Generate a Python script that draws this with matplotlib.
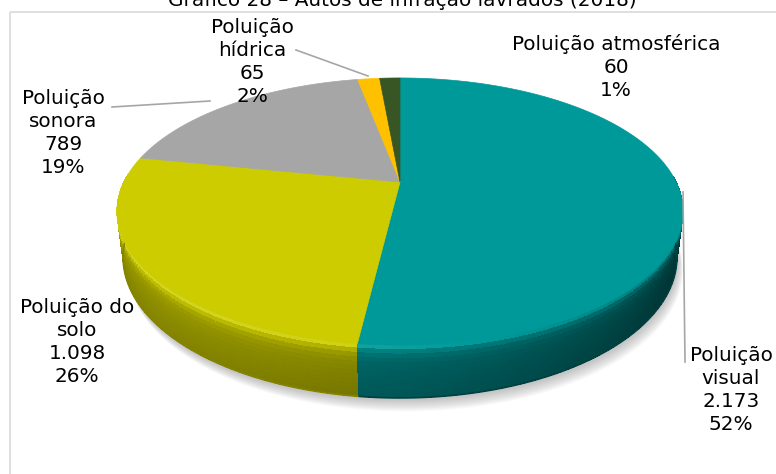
import numpy as np
import matplotlib.pyplot as plt
from matplotlib.patches import Polygon, Rectangle
from matplotlib.colors import to_rgb

# data
names = ['Poluição\nvisual', 'Poluição do\nsolo', 'Poluição\nsonora',
         'Poluição\nhídrica', 'Poluição atmosférica']
counts = [2173, 1098, 789, 65, 60]
count_labels = ['2.173', '1.098', '789', '65', '60']
colors = ['#009999', '#cccc00', '#a6a6a6', '#ffc000', '#375623']

# label layout (pixel coords) and leader lines
label_pos = [(731, 390), (77, 342), (63, 133), (252, 62), (616, 67)]
leaders = {0: [(683, 192), (685, 362)],
           2: [(112, 107), (210, 101)],
           3: [(296, 50), (368, 76)]}

# 3d projection of the pie
CX, CY = 400, 182
F, D = 1110, 4.02
SPHI, CPHI = 0.46, 0.888
H = 0.187


def proj(theta, y=0.0):
    X = np.sin(theta)
    Z = np.cos(theta)
    yc = y * CPHI + Z * SPHI
    zc = D + Z * CPHI - y * SPHI
    return CX + F * X / zc, CY - F * yc / zc


def shade(c, k):
    r, g, b = to_rgb(c)
    if k <= 1:
        return (r * k, g * k, b * k)
    t = min(k - 1, 1)
    return (r + (1 - r) * t, g + (1 - g) * t, b + (1 - b) * t)


def side_k(m, j, nb):
    light = -0.8 * np.sin(m) - 0.6 * np.cos(m)
    base = 0.5 + 0.25 * light
    return base * (1.0 - 0.15 * j / nb) + 0.4 * np.exp(-j / 1.3)


fig = plt.figure(figsize=(7.76, 4.74), dpi=100)
ax = fig.add_axes([0, 0, 1, 1])
ax.set_xlim(0, 776)
ax.set_ylim(474, 0)
ax.axis('off')

ax.add_patch(Rectangle((10, 12), 800, 500, fill=False, edgecolor='#d9d9d9', lw=1.2))

total = sum(counts)
fracs = np.array(counts) / total
bounds = np.concatenate([[0], np.cumsum(fracs)]) * 2 * np.pi

# soft shadow under the pie
th = np.linspace(0, 2 * np.pi, 361)
bx, by = proj(th, -H)
for k in range(1, 16):
    ax.add_patch(Polygon(np.column_stack([bx + k * 0.4, by + k * 0.9]), closed=True,
                         facecolor='#808080', edgecolor='none', alpha=0.04, zorder=1))

# side wall segments (front half only), far to near
segs = []
for i in range(len(counts)):
    n = max(2, int(np.degrees(bounds[i + 1] - bounds[i])))
    t = np.linspace(bounds[i], bounds[i + 1], n + 1)
    for a, b in zip(t[:-1], t[1:]):
        if np.cos((a + b) / 2) < 0.05:
            segs.append((np.cos((a + b) / 2), i, a, b))
segs.sort(key=lambda s: -s[0])

nb = 12
for _, i, a, b in segs:
    m = (a + b) / 2
    for j in range(nb):
        y0 = -H * j / nb
        y1 = -H * (j + 1) / nb
        xa0, ya0 = proj(a, y0)
        xb0, yb0 = proj(b, y0)
        xa1, ya1 = proj(a, y1)
        xb1, yb1 = proj(b, y1)
        c = shade(colors[i], side_k(m, j, nb))
        ax.add_patch(Polygon([(xa0, ya0), (xb0, yb0), (xb1, yb1), (xa1, ya1)], closed=True,
                             facecolor=c, edgecolor='none', antialiased=False, zorder=2))

# smooth bottom outline of the visible wall
for i in range(len(counts)):
    t = np.linspace(bounds[i], bounds[i + 1], 120)
    vis = np.cos(t) < 0
    if vis.sum() < 2:
        continue
    t = t[vis]
    xs, ys = proj(t, -H)
    c = shade(colors[i], side_k(np.mean(t), nb - 1, nb))
    ax.plot(xs, ys, color=c, lw=1.2, zorder=2.5, solid_capstyle='butt')

# top face
for i in range(len(counts)):
    t = np.linspace(bounds[i], bounds[i + 1], 200)
    xs, ys = proj(t)
    pts = [(CX, CY)] + list(zip(xs, ys))
    ax.add_patch(Polygon(pts, closed=True, facecolor=colors[i], edgecolor=colors[i],
                         lw=0.5, zorder=3))

# leader lines
for i, pts in leaders.items():
    ax.plot([p[0] for p in pts], [p[1] for p in pts], color='#a6a6a6', lw=1.2, zorder=4)

# labels
for i in range(len(counts)):
    pct = '{:.0f}%'.format(100 * counts[i] / total)
    txt = '{}\n{}\n{}'.format(names[i], count_labels[i], pct)
    ax.text(label_pos[i][0], label_pos[i][1], txt, ha='center', va='center',
            multialignment='center', fontsize=14.4, linespacing=1.27, color='black',
            zorder=5)

ax.text(402, 6, 'Gráfico 28 – Autos de infração lavrados (2018)', ha='center',
        va='baseline', fontsize=14.4, color='black')

fig.savefig('out.png', dpi=100)
